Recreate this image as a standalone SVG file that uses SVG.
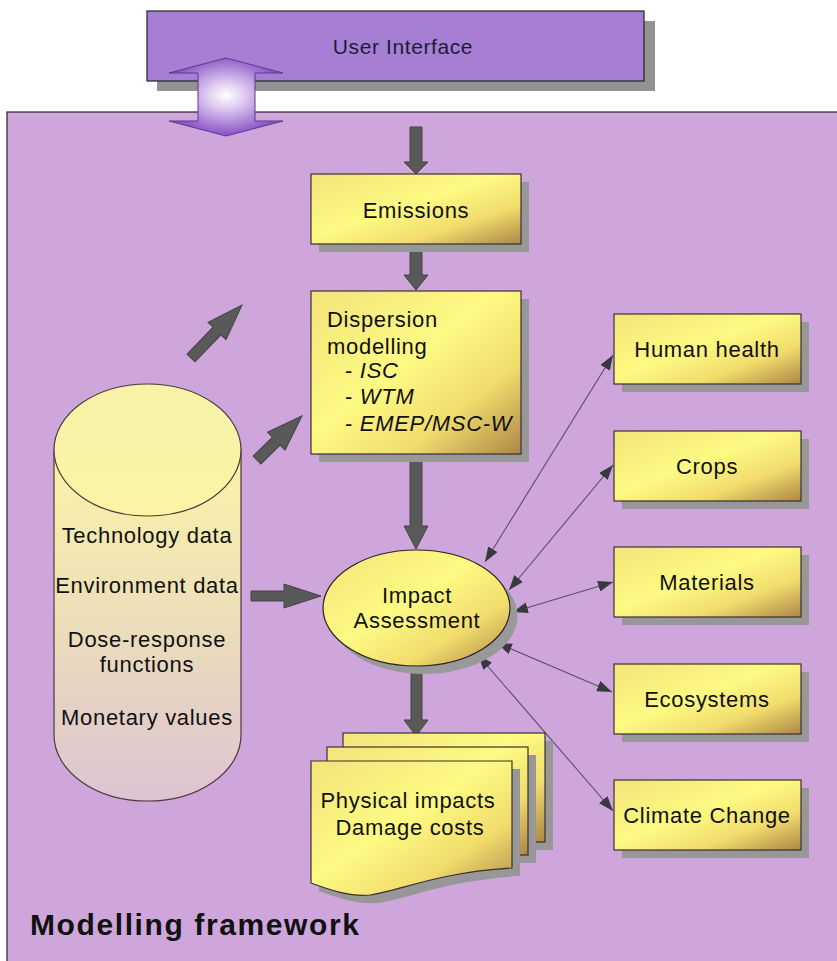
<svg xmlns="http://www.w3.org/2000/svg" width="837" height="961" viewBox="0 0 837 961">
<defs>
<linearGradient id="yel" x1="0" y1="0" x2="1" y2="1">
 <stop offset="0" stop-color="#f2e47a"/>
 <stop offset="0.45" stop-color="#fdfa82"/>
 <stop offset="0.72" stop-color="#f1dc6c"/>
 <stop offset="1" stop-color="#ad8646"/>
</linearGradient>
<linearGradient id="cyl" x1="0" y1="0" x2="0" y2="1">
 <stop offset="0" stop-color="#faf4a6"/>
 <stop offset="0.4" stop-color="#efe2b6"/>
 <stop offset="1" stop-color="#dcc4d2"/>
</linearGradient>
<linearGradient id="cyltop" x1="0" y1="0" x2="0" y2="1">
 <stop offset="0" stop-color="#f8f2a8"/>
 <stop offset="1" stop-color="#faf4a4"/>
</linearGradient>
<radialGradient id="glow" cx="0.5" cy="0.48" r="0.5">
 <stop offset="0" stop-color="#ffffff"/>
 <stop offset="0.35" stop-color="#dcc8f0"/>
 <stop offset="1" stop-color="#8c56c8"/>
</radialGradient>
<marker id="ah" viewBox="0 0 15 11" refX="15" refY="5.5" markerWidth="15" markerHeight="11" markerUnits="userSpaceOnUse" orient="auto-start-reverse"><path d="M0,0 L15,5.5 L0,11 Z" fill="#38383f"/></marker>
</defs>
<style>
.box{fill:url(#yel);stroke:#3a3030;stroke-width:1.2}
.sh{fill:#979797}
.t{font-family:"Liberation Sans",Arial,sans-serif;font-size:22px;letter-spacing:0.7px;fill:#111;text-anchor:middle}
.tl{font-family:"Liberation Sans",Arial,sans-serif;font-size:22px;letter-spacing:0.7px;fill:#111}
.fat{fill:#595959;stroke:#444;stroke-width:1}
.con{stroke:#5e4a72;stroke-width:1.1;fill:none;marker-start:url(#ah);marker-end:url(#ah)}
</style>

<rect width="837" height="961" fill="#ffffff"/>

<g id="frame">
 <rect x="7" y="112" width="840" height="860" fill="#cea6dc" stroke="#222" stroke-width="1.2"/>
 <text x="30" y="935" font-family="'Liberation Sans',Arial,sans-serif" font-size="30" font-weight="bold" letter-spacing="1.6" fill="#111">Modelling framework</text>
</g>

<g id="user-interface">
 <rect x="157" y="21" width="498" height="70" fill="#939393"/>
 <rect x="147" y="11" width="497" height="70" fill="#a67ed4" stroke="#222" stroke-width="1.2"/>
 <text x="403" y="54" font-family="'Liberation Sans',Arial,sans-serif" font-size="21" letter-spacing="0.6" fill="#1e1a3a" text-anchor="middle">User Interface</text>
</g>

<g id="connectors">
 <polygon class="fat" points="410,127 422,127 422,162 428,162 416,174 404,162 410,162"/>
 <polygon class="fat" points="410,244 422,244 422,275 428,275 416,290 404,275 410,275"/>
 <polygon class="fat" points="410,454 422,454 422,526 428,526 416,549 404,526 410,526"/>
 <polygon class="fat" points="411,666 422,666 422,720 428,720 416,736 404,720 411,720"/>
 <polygon class="fat" points="251,591 284,591 284,584 321,596 284,608 284,601 251,601"/>
 <polygon class="fat" transform="translate(191,358) rotate(-46.1)" points="0,-5.5 37.5,-5.5 37.5,-12.5 73.5,0 37.5,12.5 37.5,5.5 0,5.5"/>
 <polygon class="fat" transform="translate(257,460) rotate(-44.4)" points="0,-5.5 27,-5.5 27,-12.5 63,0 27,12.5 27,5.5 0,5.5"/>
 <line class="con" x1="613" y1="355" x2="485" y2="562"/>
 <line class="con" x1="613" y1="465" x2="509" y2="590"/>
 <line class="con" x1="613" y1="582" x2="513" y2="612"/>
 <line class="con" x1="612" y1="692" x2="497" y2="643"/>
 <line class="con" x1="613" y1="811" x2="478" y2="655"/>
</g>

<g id="emissions">
 <rect class="sh" x="319" y="182" width="210" height="70"/>
 <rect class="box" x="311" y="174" width="210" height="70"/>
 <text class="t" x="416" y="218">Emissions</text>
</g>

<g id="dispersion">
 <rect class="sh" x="319" y="299" width="210" height="163"/>
 <rect class="box" x="311" y="291" width="210" height="163"/>
 <text class="tl" x="327" y="327">Dispersion</text>
 <text class="tl" x="327" y="354">modelling</text>
 <text class="tl" x="345" y="378">- <tspan font-style="italic">ISC</tspan></text>
 <text class="tl" x="345" y="404">- <tspan font-style="italic">WTM</tspan></text>
 <text class="tl" x="345" y="431">- <tspan font-style="italic">EMEP/MSC-W</tspan></text>
</g>

<g id="database">
 <path d="M54,450 V735 A93.5,66 0 0 0 241,735 V450 Z" fill="url(#cyl)" stroke="#4a3a3a" stroke-width="1.2"/>
 <ellipse cx="147.5" cy="450" rx="93.5" ry="66" fill="url(#cyltop)" stroke="#4a3a3a" stroke-width="1.2"/>
 <text class="t" x="147" y="543">Technology data</text>
 <text class="t" x="147" y="593">Environment data</text>
 <text class="t" x="147" y="647">Dose-response</text>
 <text class="t" x="147" y="672">functions</text>
 <text class="t" x="147" y="725">Monetary values</text>
</g>

<g id="impact-assessment">
 <ellipse cx="424" cy="616" rx="93.5" ry="58" fill="#999"/>
 <ellipse cx="416.5" cy="608" rx="93.5" ry="58" fill="url(#yel)" stroke="#2a2020" stroke-width="1.2"/>
 <text class="t" x="417" y="603">Impact</text>
 <text class="t" x="417" y="628">Assessment</text>
</g>

<g id="results">
 <rect class="sh" x="351" y="741" width="202" height="109"/>
 <rect class="box" x="343" y="733" width="202" height="109"/>
 <rect class="sh" x="335" y="755" width="201" height="108"/>
 <rect class="box" x="327" y="747" width="201" height="108"/>
 <path class="sh" d="M319,769 H520 V876 C448,880 410,898 378,903 C358,905 338,898 319,891 Z"/>
 <path class="box" d="M311,761 H512 V868 C440,872 402,890 370,895 C350,897 330,890 311,883 Z"/>
 <text class="t" x="408" y="808">Physical impacts</text>
 <text class="t" x="410" y="835">Damage costs</text>
</g>

<g id="human-health">
 <rect class="sh" x="622" y="322" width="187" height="70"/>
 <rect class="box" x="614" y="314" width="187" height="70"/>
 <text class="t" x="707" y="357">Human health</text>
</g>
<g id="crops">
 <rect class="sh" x="622" y="439" width="187" height="70"/>
 <rect class="box" x="614" y="431" width="187" height="70"/>
 <text class="t" x="707" y="474">Crops</text>
</g>
<g id="materials">
 <rect class="sh" x="622" y="555" width="187" height="70"/>
 <rect class="box" x="614" y="547" width="187" height="70"/>
 <text class="t" x="707" y="590">Materials</text>
</g>
<g id="ecosystems">
 <rect class="sh" x="622" y="672" width="187" height="70"/>
 <rect class="box" x="614" y="664" width="187" height="70"/>
 <text class="t" x="707" y="707">Ecosystems</text>
</g>
<g id="climate-change">
 <rect class="sh" x="622" y="788" width="187" height="70"/>
 <rect class="box" x="614" y="780" width="187" height="70"/>
 <text class="t" x="707" y="823">Climate Change</text>
</g>

<g id="ui-arrow">
 <polygon points="226,58 283,73 255,73 255,121 283,121 226,136 169,121 198,121 198,73 169,73" fill="url(#glow)" stroke="#5a3a8a" stroke-width="1"/>
</g>
</svg>
